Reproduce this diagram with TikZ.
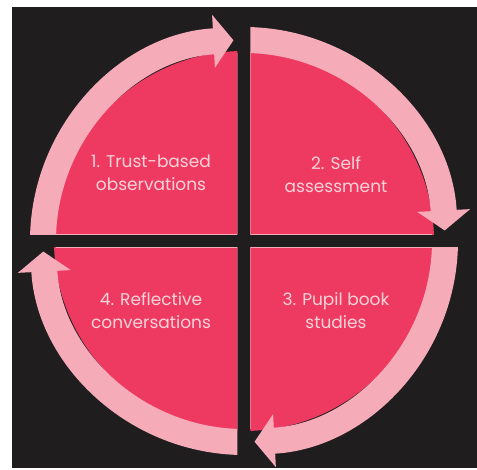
\documentclass[tikz,border=0pt]{standalone}
\usepackage{fontspec}
\setmainfont{Poppins}
\usetikzlibrary{arrows.meta}
\definecolor{cyclebg}{HTML}{1F1D1E}
\definecolor{cyclepink}{HTML}{EE3A60}
\definecolor{ringpink}{HTML}{F5ABB8}
\definecolor{labelpink}{HTML}{FAD3DA}
\begin{document}
\begin{tikzpicture}[x=1pt,y=1pt,font=\fontsize{17}{23}\selectfont,
  quarter/.style={fill=cyclepink},
  ringarrow/.style={draw=ringpink,line width=26pt,-{Triangle[width=52pt,length=20pt]}},
  edgeline/.style={draw=ringpink,line width=1.6pt},
  phase/.style={text=labelpink,align=center}]
  \useasboundingbox (-244,-229) rectangle (233,241);
  \fill[white] (-244,-229) rectangle (233,241);
  \fill[cyclebg] (-232,-227) rectangle (233,234);
  % top left
  \begin{scope}
    \clip (-6.5,6.5) rectangle (-240,240);
    \fill[quarter] (0,0) circle (190);
    \draw[edgeline] (-6.5,6.5) -- (-6.5,188) (-6.5,6.5) -- (-188,6.5);
    \draw[ringarrow] (180:201) arc[start angle=180,end angle=93,radius=201];
  \end{scope}
  % top right
  \begin{scope}
    \clip (6.5,6.5) rectangle (240,240);
    \fill[quarter] (0,0) circle (190);
    \draw[edgeline] (6.5,6.5) -- (6.5,188) (6.5,6.5) -- (188,6.5);
    \draw[ringarrow] (90:201) arc[start angle=90,end angle=3,radius=201];
  \end{scope}
  % bottom right
  \begin{scope}
    \clip (6.5,-6.5) rectangle (240,-240);
    \fill[quarter] (0,0) circle (190);
    \draw[edgeline] (6.5,-6.5) -- (6.5,-188) (6.5,-6.5) -- (188,-6.5);
    \draw[ringarrow] (0:201) arc[start angle=0,end angle=-87,radius=201];
  \end{scope}
  % bottom left
  \begin{scope}
    \clip (-6.5,-6.5) rectangle (-240,-240);
    \fill[quarter] (0,0) circle (190);
    \draw[edgeline] (-6.5,-6.5) -- (-6.5,-188) (-6.5,-6.5) -- (-188,-6.5);
    \draw[ringarrow] (270:201) arc[start angle=270,end angle=183,radius=201];
  \end{scope}
  \node[phase] (trust) at (-93,68) {1. Trust-based\\observations};
  \node[phase] (self) at (92,66) {2. Self\\assessment};
  \node[phase] (pupil) at (92,-70) {3. Pupil book\\studies};
  \node[phase] (reflect) at (-93,-70) {4. Reflective\\conversations};
\end{tikzpicture}
\end{document}
